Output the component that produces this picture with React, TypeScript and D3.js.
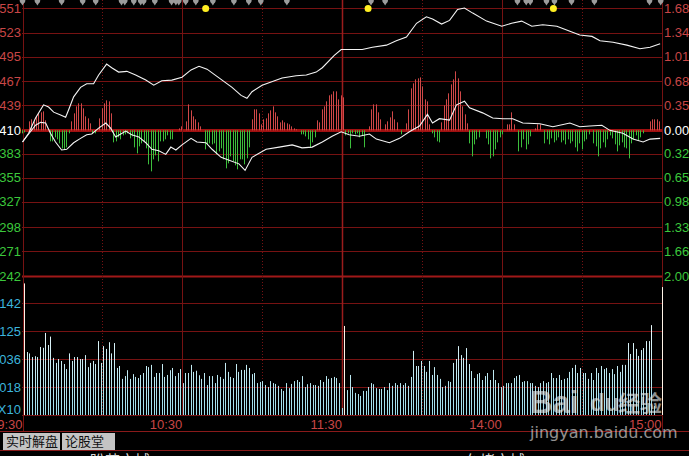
import React from 'react';
import * as d3 from 'd3';

// intraday index chart: price lines + up/down flow bars on top, minute volume below

const priceLabels = ['551', '523', '495', '467', '439', '410', '383', '355', '327', '298', '271', '242'];
const pctTicks = [1.68, 1.34, 1.01, 0.68, 0.35, 0, -0.32, -0.65, -0.98, -1.33, -1.66, -2.0];
const volTicks = [4, 3, 2, 1];
const volLabels = ['142', '125', '036', '018'];
const timeTicks = [0, 60, 120, 180, 240];
const timeLabels = ['9:30', '10:30', '11:30', '14:00', '15:00'];
const dottedTicks = [30, 90, 150, 210];

// [minute, pct]
const priceLine: [number, number][] = [
  [0, -0.16], [2.3, -0.04], [4.9, 0.17], [7.9, 0.35], [9.8, 0.32], [11.7, 0.25], [14.3, 0.21],
  [16.2, 0.18], [17.3, 0.28], [19.2, 0.46], [21.8, 0.59], [24.1, 0.64], [26.7, 0.64], [28.6, 0.76],
  [31.6, 0.91], [33.5, 0.86], [36.1, 0.8], [39.2, 0.81], [42.5, 0.76], [46.3, 0.69], [49.3, 0.62],
  [52.3, 0.68], [56.1, 0.69], [59.9, 0.73], [63.3, 0.83], [66.3, 0.88], [69.3, 0.84], [73.8, 0.72],
  [78.7, 0.59], [82.1, 0.48], [84.3, 0.44], [86.2, 0.53], [90, 0.62], [97.5, 0.72], [102.8, 0.75],
  [106.6, 0.76], [110.3, 0.8], [112.6, 0.86], [117.1, 1.03], [119.7, 1.11], [122, 1.11], [127.6, 1.11],
  [131.4, 1.14], [136.7, 1.17], [140.4, 1.23], [144.2, 1.28], [148, 1.47], [151.7, 1.56], [154, 1.53],
  [157.4, 1.46], [160.4, 1.51], [163.4, 1.66], [166, 1.68], [169.1, 1.61], [174.3, 1.5], [180, 1.43],
  [183.7, 1.47], [187.5, 1.5], [191.3, 1.43], [195.4, 1.45], [200.7, 1.43], [205.6, 1.36], [209.3, 1.31],
  [213.9, 1.29], [216.9, 1.23], [221.8, 1.21], [227, 1.17], [231.9, 1.12], [235.7, 1.14], [239.5, 1.19],
];

const avgLine: [number, number][] = [
  [0, -0.16], [2.3, -0.05], [4.9, 0.07], [6.8, 0.11], [8.7, 0.1], [10.5, -0.04], [12.4, -0.16],
  [14.7, -0.27], [16.6, -0.26], [19.2, -0.17], [21.8, -0.11], [24.1, -0.06], [26, -0.05], [28.6, 0.03],
  [31.3, 0.1], [33.1, 0.03], [35, -0.09], [36.9, -0.05], [38.8, -0.01], [41, -0.06], [43.7, -0.09],
  [46.3, -0.17], [48.6, -0.26], [51.2, -0.28], [53.8, -0.33], [55.7, -0.23], [57.6, -0.27], [59.9, -0.2],
  [63.3, -0.11], [65.5, -0.16], [68.9, -0.17], [71.2, -0.26], [74.6, -0.37], [77.6, -0.41], [81.3, -0.46],
  [83.6, -0.55], [86.2, -0.37], [91.5, -0.26], [96.4, -0.23], [101.3, -0.2], [105, -0.24], [108.8, -0.23],
  [112.6, -0.16], [116.3, -0.08], [119.7, -0.02], [122.7, -0.06], [126.5, -0.08], [130.3, -0.05],
  [132.9, -0.12], [137.8, -0.17], [141.6, -0.11], [145.3, -0.02], [149.1, 0.06], [152.1, 0.22], [154, 0.1],
  [156.6, 0.16], [160.4, 0.14], [163, 0.35], [166, 0.4], [167.9, 0.31], [172.8, 0.24], [176.6, 0.17],
  [180.4, 0.16], [184.1, 0.16], [187.9, 0.1], [194.3, 0.09], [199.2, 0.05], [205.6, 0.1], [209.3, 0.05],
  [213.1, 0.06], [217.6, 0.07], [220.6, 0.0], [225.5, -0.04], [229.3, -0.12], [233.1, -0.16],
  [235.7, -0.12], [239.5, -0.11],
];

// buy/sell flow bars, + red / - green
const flow = [
  -3, -2, 0, 9, 11, 9, 14, 17, 18, 19, 10, 0,
  -11, -11, -7, -9, -13, -18, -19, -17, -3,
  9, 17, 24, 27, 27, 22, 14, 12, 7, -3, -3, 0,
  12, 22, 27, 30, 29, 17,
  -12, -11, -7, -9, -5, -4, -3, -8, -6, -17, -23, -16, -13, -11, -18, -34, -41, -29, -25, -31, -11, -11, -9, -5, -9, -9,
  0, 0, 2, 4, 0,
  9, 26, 20, 14, 11, 8, 4, 0,
  -19, -14, -13, -14, -13, -24, -21, -18, -29, -38, -33, -26, -31, -35, -39, -29, -29, -34, -28, -17,
  11, 21, 21, 17, 6, 11, 12, 17, 20, 24, 18, 14, 8, 10, 8, 7, 6, 4, 2, 1, 0,
  -4, -4, -6, -9, -17, -12, -7,
  10, 8, 21, 24, 29, 35, 36, 39, 39, 31, 35, 33,
  -5, -3, -18, -3, -4, -3, -7, -5, -17, 0,
  4, 21, 26, 26, 18, 11, 0,
  6, 9, 13, 19, 11, 8, 0, -4, 0,
  7, 21, 42, 47, 51, 52, 53, 44, 31, 29, 6,
  -3, -7, -11, -12,
  8, 25, 31, 37, 46, 51, 59, 52, 39, 24, 16, 7,
  -13, -26, -14, -9, -7, 0, 0,
  -8, -14, -28, -26, -19, -12, -7, -4, 0,
  6, 6, 18, 6, 0,
  -21, -17, -9, -19, -14, -6, 0,
  2, 6, 6, 0,
  -13, -9, -14, -8, -12, -10, -7, -12, -10, -14, -9, -13, -11, -17, -21, -13, -19, -11, -9, -4, 0,
  -13, -16, -26, -18, -12, -17, -9, -5, -8, -14, -21, -15, -12, -17, -18, -28, -13, -9, -5, -10, -7, -3, 0, 0,
  9, 11, 11, 11, 9,
];

// minute volume, in grid units
const volume = [
  4.7, 2.25, 2.2, 2.07, 2.1, 2.07, 2.43, 2.4, 2.93, 2.5, 2.8, 2.04, 1.86, 2.0, 1.93, 1.82, 1.64, 2.2, 1.93, 2.07,
  2.07, 2.0, 2.0, 2.14, 1.71, 1.86, 1.93, 1.82, 2.64, 1.86, 2.46, 2.36, 2.6, 2.2, 2.57, 1.68, 1.75, 1.29, 1.39, 1.6,
  1.29, 1.46, 1.36, 1.32, 1.43, 1.5, 1.75, 1.71, 1.79, 1.36, 1.5, 1.5, 1.82, 1.36, 1.43, 1.6, 1.68, 1.39, 1.5, 1.64,
  1.14, 1.5, 1.5, 1.79, 1.54, 1.58, 1.42, 1.29, 1.5, 1.07, 1.39, 1.39, 1.14, 1.43, 1.36, 1.29, 1.86, 1.54, 1.36, 1.32,
  1.82, 1.54, 1.61, 1.61, 1.79, 1.68, 1.46, 1.5, 1.14, 1.18, 1.21, 1.07, 1.0, 1.21, 1.14, 1.11, 1.04, 0.93, 0.86, 1.14,
  0.96, 1.11, 1.21, 1.25, 1.18, 1.39, 1.0, 1.1, 1.14, 1.07, 1.07, 1.04, 1.25, 1.18, 1.39, 1.29, 1.32, 1.36, 1.32, 1.14,
  0.25, 3.18,
  0.89, 1.43, 1.0, 0.79, 0.75, 0.68, 0.86, 0.86, 1.0, 1.14, 1.1, 0.96, 0.93, 0.93, 1.0, 0.89, 1.14, 1.04, 1.14, 1.07,
  1.14, 1.07, 1.14, 1.04, 1.36, 2.29, 1.75, 1.75, 1.93, 1.75, 1.54, 1.93, 1.43, 1.71, 1.43, 1.29, 1.0, 1.04, 1.21, 1.18,
  1.86, 2.0, 2.46, 2.14, 2.04, 2.39, 1.82, 1.57, 1.32, 1.46, 1.5, 1.25, 1.39, 1.5, 1.25, 1.61, 1.25, 1.14, 1.0, 1.04,
  1.14, 1.14, 1.14, 1.32, 1.39, 1.43, 1.18, 1.21, 1.21, 1.14, 1.14, 1.04, 1.0, 1.14, 1.21, 1.14, 1.18, 1.5, 1.32, 1.32,
  1.43, 1.25, 1.29, 1.32, 1.54, 1.68, 1.79, 1.5, 1.68, 1.5, 1.5, 1.29, 1.5, 1.25, 1.68, 1.5, 1.75, 1.64, 1.68, 1.5,
  1.64, 1.46, 1.75, 1.54, 1.79, 1.79, 2.57, 2.18, 2.57, 2.36, 2.11, 2.32, 2.39, 2.64, 2.64, 3.21, 0.32,
  0, 0, 4.57,
];

const greyMarks = [0, 5.6, 14.7, 22.6, 27.5, 37.2, 38.4, 41.8, 44.4, 45.5, 49.7, 56, 57.6, 58.7, 61.3, 65.1, 71.5, 79.4,
  85, 89.5, 99.3, 130.9, 136.2, 185.9, 189.2, 190.7, 196.8, 199.8, 206.2, 214.8, 235.5, 239.7];
const yellowMarks = [68.8, 129.8, 199.4];

const W = 689;
const H = 456;
const RED = '#c84646';
const GREEN = '#3cc83c';
const CYAN = '#3cb4dc';
const GRID = '#761212';
const FONT = '"Liberation Sans", Arial, sans-serif';

export default function App() {
  const x = d3.scaleLinear().domain([0, 240]).range([22.5, 661.5]);
  const y = d3.scaleLinear().domain([-2.0, 1.68]).range([276, 8]);
  const zeroY = y(0);
  const yFlow = d3.scaleLinear().domain([0, 60]).range([zeroY, zeroY - 60]);
  const xFlow = d3.scaleLinear().domain([0, flow.length - 1]).range([22, 659]);
  const yVol = d3.scaleLinear().domain([0, 5]).range([415, 275]);
  const xVol = d3.scaleLinear().domain([0, volume.length - 1]).range([24, 662]);

  const line = d3.line<[number, number]>().x(d => x(d[0])).y(d => y(d[1]));

  return (
    <svg width={W} height={H} style={{ position: 'absolute', left: 0, top: 0, background: '#000' }} fontFamily={FONT}>
      <defs>
        <linearGradient id="volGrad" gradientUnits="userSpaceOnUse" x1="0" y1="300" x2="0" y2="415">
          <stop offset="0" stopColor="#ffffff" />
          <stop offset="1" stopColor="#9adcea" />
        </linearGradient>
      </defs>
      <rect width={W} height={H} fill="#000" />

      {/* horizontal grid */}
      {pctTicks.map((t, i) => (
        <line key={'h' + i} x1={22} x2={662} y1={Math.round(y(t)) + 0.5} y2={Math.round(y(t)) + 0.5}
          stroke={t === 0 ? '#a01010' : i === pctTicks.length - 1 ? '#a01818' : GRID}
          strokeWidth={t === 0 ? 3 : i === pctTicks.length - 1 ? 2 : 1} />
      ))}
      {volTicks.map(t => (
        <line key={'vh' + t} x1={22} x2={662} y1={Math.round(yVol(t)) + 0.5} y2={Math.round(yVol(t)) + 0.5} stroke={GRID} />
      ))}
      <line x1={22} x2={662} y1={415.5} y2={415.5} stroke={GRID} />

      {/* vertical grid */}
      {dottedTicks.map(t => (
        <line key={'d' + t} x1={Math.round(x(t)) + 0.5} x2={Math.round(x(t)) + 0.5} y1={0} y2={415}
          stroke={GRID} strokeDasharray="1 2" />
      ))}
      {timeTicks.map(t => (
        <line key={'v' + t} x1={Math.round(x(t)) + 0.5} x2={Math.round(x(t)) + 0.5} y1={0} y2={t === 0 || t === 240 ? 431 : 415}
          stroke={t === 120 ? '#9a1c1c' : GRID} strokeWidth={t === 120 ? 1.5 : 1} />
      ))}

      {/* flow bars */}
      {flow.map((v, i) => v === 0 ? null : (
        <line key={'f' + i} x1={Math.round(xFlow(i)) + 0.5} x2={Math.round(xFlow(i)) + 0.5}
          y1={zeroY} y2={yFlow(v)} stroke={v > 0 ? '#d04848' : '#3cbe3c'} strokeWidth={1} />
      ))}

      {/* price lines */}
      <path d={line(avgLine) || ''} fill="none" stroke="#f4f4f4" strokeWidth={1.1} />
      <path d={line(priceLine) || ''} fill="none" stroke="#f4f4f4" strokeWidth={1.1} />

      {/* volume */}
      {volume.map((v, i) => v === 0 ? null : (
        <rect key={'vb' + i} x={Math.round(xVol(i))} y={yVol(v)} width={1} height={415 - yVol(v)}
          fill={i === 0 || i === volume.length - 1 || i === 121 ? '#fff4e8' : 'url(#volGrad)'} />
      ))}

      {/* top markers */}
      {greyMarks.map((m, i) => (
        <g key={'g' + i} fill="#9c9c9c">
          <circle cx={x(m)} cy={0.5} r={2.8} />
          <path d={`M${x(m) - 2.2},2 L${x(m) + 2.2},2 L${x(m)},5.5 Z`} />
        </g>
      ))}
      {yellowMarks.map((m, i) => (
        <circle key={'y' + i} cx={x(m)} cy={8.5} r={3.5} fill="#ffee22" />
      ))}

      {/* left axis */}
      {pctTicks.map((t, i) => (
        <text key={'lp' + i} x={21} y={y(t)} dy="0.36em" textAnchor="end" fontSize={13}
          fill={t > 0 ? RED : t === 0 ? '#ffffff' : GREEN}>{priceLabels[i]}</text>
      ))}
      {volTicks.map((t, i) => (
        <text key={'lv' + t} x={21} y={yVol(t)} dy="0.36em" textAnchor="end" fontSize={13} fill={CYAN}>{volLabels[i]}</text>
      ))}
      <text x={21} y={409} dy="0.36em" textAnchor="end" fontSize={13} fill={CYAN}>X10</text>

      {/* right axis */}
      {pctTicks.map((t, i) => (
        <text key={'rp' + i} x={664} y={y(t)} dy="0.36em" fontSize={13}
          fill={t > 0 ? RED : t === 0 ? '#ffffff' : GREEN}>{d3.format('.2f')(Math.abs(t))}</text>
      ))}

      {/* time axis */}
      {timeTicks.map((t, i) => (
        <text key={'t' + t} x={x(t)} y={429} textAnchor="end" fontSize={13} fill={RED}>{timeLabels[i]}</text>
      ))}

      {/* bottom tabs */}
      <line x1={0} x2={W} y1={431.5} y2={431.5} stroke="#8a1a1a" />
      <line x1={0} x2={W} y1={450.5} y2={450.5} stroke="#8a1a1a" />
      <rect x={3} y={433} width={57} height={17} fill="#c4c4c4" />
      <rect x={62} y={433} width={53} height={17} fill="#c4c4c4" />
      <text x={6} y={446} fontSize={13} fill="#111" fontFamily='"Noto Sans CJK SC", sans-serif'>实时解盘</text>
      <text x={65} y={446} fontSize={13} fill="#111" fontFamily='"Noto Sans CJK SC", sans-serif'>论股堂</text>
      <text x={90} y={466} fontSize={15} fill="#d8d8d8" fontFamily='"Noto Sans CJK SC", sans-serif'>盼若市城</text>
      <text x={465} y={466} fontSize={15} fill="#d8d8d8" fontFamily='"Noto Sans CJK SC", sans-serif'>久堵市城</text>

      {/* watermark */}
      <g opacity={0.62} fill="#e8e8e8">
        <text x={530} y={413} fontSize={31} fontWeight="bold" fontFamily='"Liberation Sans", Arial, sans-serif'>Bai</text>
        <text x={590} y={411} fontSize={24} fontWeight="bold">du</text>
        <text x={618} y={411} fontSize={22} fontWeight="bold" fontFamily='"Noto Sans CJK SC", sans-serif'>经验</text>
        <text x={530} y={438} fontSize={16} fontFamily='"DejaVu Sans", sans-serif'>jingyan.baidu.com</text>
      </g>
    </svg>
  );
}
